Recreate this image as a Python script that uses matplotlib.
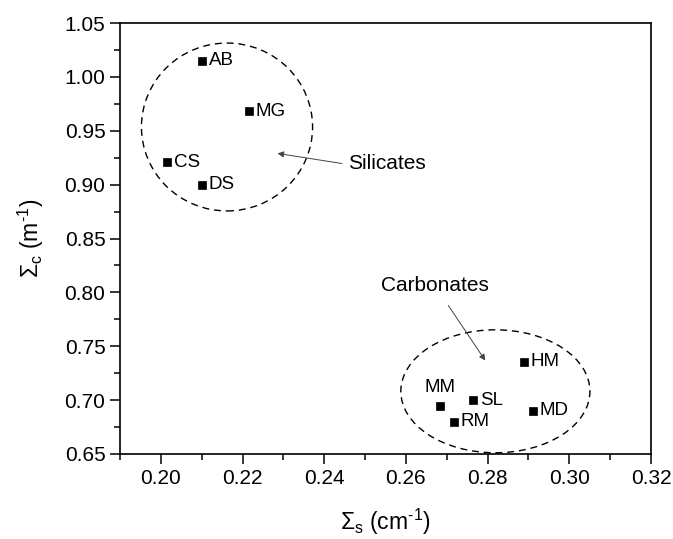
import matplotlib
matplotlib.use("Agg")
import matplotlib.pyplot as plt
from matplotlib.patches import Ellipse

plt.rcParams['font.family'] = ['Liberation Sans', 'DejaVu Sans']
plt.rcParams['mathtext.fontset'] = 'custom'
plt.rcParams['mathtext.rm'] = 'Liberation Sans'
plt.rcParams['mathtext.it'] = 'Liberation Sans'

# samples
names = ['AB', 'MG', 'CS', 'DS', 'HM', 'MM', 'SL', 'RM', 'MD']
sig_s = [0.210, 0.2215, 0.2016, 0.210, 0.2889, 0.2683, 0.2764, 0.2717, 0.2911]
sig_c = [1.015, 0.968, 0.921, 0.900, 0.7355, 0.695, 0.700, 0.680, 0.690]

fig = plt.figure(figsize=(6.73, 5.39), dpi=100)
ax = fig.add_axes([0.1783, 0.1577, 0.789, 0.7996])

ax.plot(sig_s, sig_c, 's', color='black', markersize=6, mew=0.5, linestyle='none')

# label offsets in points
for n, x, y in zip(names, sig_s, sig_c):
    if n == 'MM':
        ax.annotate(n, (x, y), xytext=(0, 13), textcoords='offset points',
                    ha='center', va='center', fontsize=13.5)
    else:
        ax.annotate(n, (x, y), xytext=(5, 0), textcoords='offset points',
                    ha='left', va='center', fontsize=13.5)

# group outlines
ax.add_patch(Ellipse((0.2162, 0.9535), 0.0419, 0.1558, fill=False,
                     ls=(0, (5, 3.5)), lw=1.0, color='black'))
ax.add_patch(Ellipse((0.2819, 0.7082), 0.0463, 0.1141, fill=False,
                     ls=(0, (5, 3.5)), lw=1.0, color='black', clip_on=False))

ax.annotate('', xy=(0.2279, 0.9294), xytext=(0.2450, 0.9192),
            arrowprops=dict(arrowstyle='-|>', color='#444444', lw=0.7,
                            mutation_scale=9))
ax.text(0.2458, 0.920, 'Silicates', fontsize=15, ha='left', va='center')
ax.annotate('', xy=(0.2798, 0.7346), xytext=(0.2700, 0.790),
            arrowprops=dict(arrowstyle='-|>', color='#444444', lw=0.7,
                            mutation_scale=9))
ax.text(0.2671, 0.806, 'Carbonates', fontsize=15, ha='center', va='center')

ax.set_xlim(0.19, 0.32)
ax.set_ylim(0.65, 1.05)
ax.set_xticks([0.20, 0.22, 0.24, 0.26, 0.28, 0.30, 0.32])
ax.set_xticks([0.19, 0.21, 0.23, 0.25, 0.27, 0.29, 0.31], minor=True)
ax.set_yticks([0.65, 0.70, 0.75, 0.80, 0.85, 0.90, 0.95, 1.00, 1.05])
ax.set_yticks([0.675, 0.725, 0.775, 0.825, 0.875, 0.925, 0.975, 1.025], minor=True)
ax.xaxis.set_major_formatter(plt.FormatStrFormatter('%.2f'))
ax.yaxis.set_major_formatter(plt.FormatStrFormatter('%.2f'))
ax.tick_params(which='major', direction='out', length=7, width=1.1, labelsize=15)
ax.tick_params(which='minor', direction='out', length=4, width=1.1)
for s in ax.spines.values():
    s.set_linewidth(1.2)

ax.set_xlabel(r'$\Sigma_\mathrm{s}$ (cm$^{\text{-1}}$)', fontsize=16.5, labelpad=14)
ax.set_ylabel(r'$\Sigma_\mathrm{c}$ (m$^{\text{-1}}$)', fontsize=16.5, labelpad=13)

fig.savefig('out.png', dpi=100)
